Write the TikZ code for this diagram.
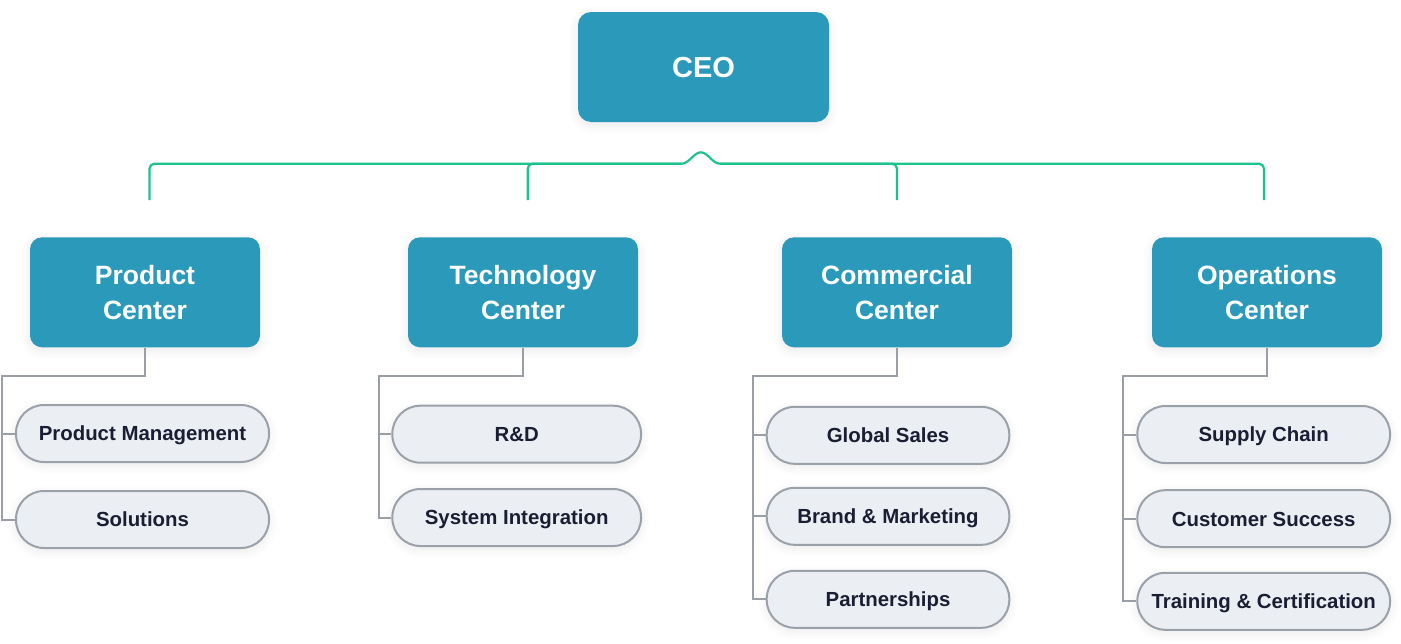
\documentclass[tikz,border=0pt]{standalone}
\usepackage{fontspec}
\setmainfont{Liberation Sans}
\usetikzlibrary{shadows.blur}
\definecolor{boxblue}{RGB}{43,154,186}
\definecolor{pillfill}{RGB}{235,239,244}
\definecolor{pillline}{RGB}{155,161,169}
\definecolor{greyline}{RGB}{154,159,166}
\definecolor{gline}{RGB}{30,195,137}
\definecolor{darktext}{RGB}{27,30,51}
\tikzset{
  softshadow/.style={blur shadow={shadow xshift=0pt, shadow yshift=-3pt,
    shadow blur radius=9pt, shadow opacity=9, shadow blur steps=10}},
  ceobox/.style={rectangle, rounded corners=13pt, fill=boxblue, text=white,
    minimum width=251pt, minimum height=110pt, inner sep=0pt, softshadow,
    text height=21pt, text depth=0pt,
    font=\fontsize{29}{34}\selectfont\bfseries},
  centerbox/.style={rectangle, rounded corners=12pt, fill=boxblue, text=white,
    minimum width=230pt, minimum height=110pt, inner sep=0pt, align=center,
    softshadow, font=\fontsize{26.5}{35.3}\selectfont\bfseries},
  pill/.style={rectangle, rounded corners=28pt, fill=pillfill, draw=pillline,
    line width=2pt, text=darktext, minimum height=57pt, inner sep=0pt,
    text height=14.6pt, text depth=0pt, softshadow,
    font=\fontsize{20.4}{24}\selectfont\bfseries},
  greenline/.style={draw=gline, line width=2.2pt},
  greyconn/.style={draw=greyline, line width=2pt},
}
\begin{document}
\begin{tikzpicture}[x=1pt,y=-1pt]
\useasboundingbox (0,0) rectangle (1401,643);
% top level
\node[ceobox] (ceo) at (703.5,67) {CEO};
\node[centerbox] (pc) at (145,292.3) {Product\\Center};
\node[centerbox] (tc) at (523,292.3) {Technology\\Center};
\node[centerbox] (cc) at (897,292.3) {Commercial\\Center};
\node[centerbox] (oc) at (1267,292.3) {Operations\\Center};
% green connector
\coordinate (bumpL) at (681.7,163.7);
\coordinate (bumpR) at (720,163.7);
\coordinate (d1) at (149.5,200);
\coordinate (d2) at (527.7,200);
\coordinate (d3) at (897,200);
\coordinate (d4) at (1264,200);
\draw[greenline] (bumpL) .. controls (689,163.7) and (694,152.3) .. (700.8,152.3)
  .. controls (707.6,152.3) and (712.6,163.7) .. (bumpR);
\draw[greenline, rounded corners=5pt] (bumpL) -| (d1);
\draw[greenline, rounded corners=5pt] (bumpL) -| (d2);
\draw[greenline, rounded corners=5pt] (bumpR) -| (d3);
\draw[greenline, rounded corners=5pt] (bumpR) -| (d4);
% pills
\node[pill, minimum width=253pt] (p1) at (142.5,433.5) {Product Management};
\node[pill, minimum width=253pt] (p2) at (142.5,519.5) {Solutions};
\node[pill, minimum width=248.7pt] (t1) at (516.7,434.2) {R\&D};
\node[pill, minimum width=248.7pt] (t2) at (516.7,517.5) {System Integration};
\node[pill, minimum width=242.6pt] (c1) at (888,435.3) {Global Sales};
\node[pill, minimum width=242.6pt] (c2) at (888,516.3) {Brand \& Marketing};
\node[pill, minimum width=242.6pt] (c3) at (888,599.3) {Partnerships};
\node[pill, minimum width=252.7pt] (o1) at (1263.7,434.5) {Supply Chain};
\node[pill, minimum width=252.7pt] (o2) at (1263.7,518.7) {Customer Success};
\node[pill, minimum width=252.7pt] (o3) at (1263.7,601.3) {Training \& Certification};
% grey connectors
\coordinate (pbus) at (2,375.7);
\coordinate (tbus) at (379,375.7);
\coordinate (cbus) at (753.3,375.7);
\coordinate (obus) at (1123.3,375.7);
\draw[greyconn] (pc.south) |- (pbus) |- (p1.west);
\draw[greyconn] (pbus) |- (p2.west);
\draw[greyconn] (tc.south) |- (tbus) |- (t1.west);
\draw[greyconn] (tbus) |- (t2.west);
\draw[greyconn] (cc.south) |- (cbus) |- (c1.west);
\draw[greyconn] (cbus) |- (c2.west);
\draw[greyconn] (cbus) |- (c3.west);
\draw[greyconn] (oc.south) |- (obus) |- (o1.west);
\draw[greyconn] (obus) |- (o2.west);
\draw[greyconn] (obus) |- (o3.west);
\end{tikzpicture}
\end{document}
